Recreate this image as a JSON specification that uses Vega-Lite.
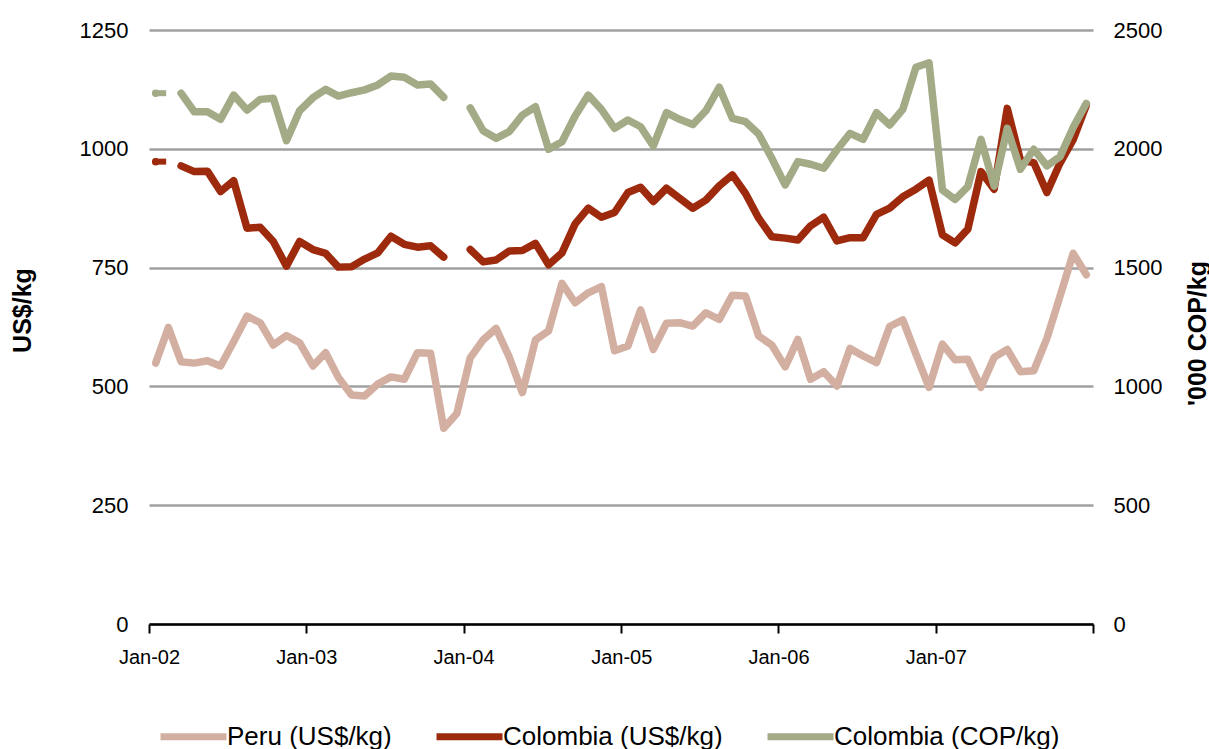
{
  "$schema": "https://vega.github.io/schema/vega-lite/v6.json",
  "width": 944,
  "height": 594,
  "autosize": {"type": "none"},
  "padding": {"left": 149, "top": 30, "right": 116, "bottom": 125},
  "background": "white",
  "config": {
    "view": {"stroke": null},
    "font": "Liberation Sans",
    "axis": {"labelFont": "Liberation Sans", "titleFont": "Liberation Sans", "labelColor": "black", "titleColor": "black"},
    "legend": {"labelFont": "Liberation Sans"}
  },
  "data": {
    "values": [
      {"date": "2002-01-01", "series": "Peru (US$/kg)", "value": 549},
      {"date": "2002-02-01", "series": "Peru (US$/kg)", "value": 624},
      {"date": "2002-03-01", "series": "Peru (US$/kg)", "value": 552},
      {"date": "2002-04-01", "series": "Peru (US$/kg)", "value": 549},
      {"date": "2002-05-01", "series": "Peru (US$/kg)", "value": 554},
      {"date": "2002-06-01", "series": "Peru (US$/kg)", "value": 543},
      {"date": "2002-07-01", "series": "Peru (US$/kg)", "value": 594},
      {"date": "2002-08-01", "series": "Peru (US$/kg)", "value": 648},
      {"date": "2002-09-01", "series": "Peru (US$/kg)", "value": 634},
      {"date": "2002-10-01", "series": "Peru (US$/kg)", "value": 587},
      {"date": "2002-11-01", "series": "Peru (US$/kg)", "value": 607},
      {"date": "2002-12-01", "series": "Peru (US$/kg)", "value": 592},
      {"date": "2003-01-01", "series": "Peru (US$/kg)", "value": 543},
      {"date": "2003-02-01", "series": "Peru (US$/kg)", "value": 571},
      {"date": "2003-03-01", "series": "Peru (US$/kg)", "value": 519},
      {"date": "2003-04-01", "series": "Peru (US$/kg)", "value": 482},
      {"date": "2003-05-01", "series": "Peru (US$/kg)", "value": 480},
      {"date": "2003-06-01", "series": "Peru (US$/kg)", "value": 505},
      {"date": "2003-07-01", "series": "Peru (US$/kg)", "value": 520},
      {"date": "2003-08-01", "series": "Peru (US$/kg)", "value": 515},
      {"date": "2003-09-01", "series": "Peru (US$/kg)", "value": 571},
      {"date": "2003-10-01", "series": "Peru (US$/kg)", "value": 570},
      {"date": "2003-11-01", "series": "Peru (US$/kg)", "value": 412},
      {"date": "2003-12-01", "series": "Peru (US$/kg)", "value": 443},
      {"date": "2004-01-01", "series": "Peru (US$/kg)", "value": 560},
      {"date": "2004-02-01", "series": "Peru (US$/kg)", "value": 598},
      {"date": "2004-03-01", "series": "Peru (US$/kg)", "value": 622},
      {"date": "2004-04-01", "series": "Peru (US$/kg)", "value": 562},
      {"date": "2004-05-01", "series": "Peru (US$/kg)", "value": 487},
      {"date": "2004-06-01", "series": "Peru (US$/kg)", "value": 598},
      {"date": "2004-07-01", "series": "Peru (US$/kg)", "value": 617},
      {"date": "2004-08-01", "series": "Peru (US$/kg)", "value": 717},
      {"date": "2004-09-01", "series": "Peru (US$/kg)", "value": 676},
      {"date": "2004-10-01", "series": "Peru (US$/kg)", "value": 697},
      {"date": "2004-11-01", "series": "Peru (US$/kg)", "value": 710},
      {"date": "2004-12-01", "series": "Peru (US$/kg)", "value": 575},
      {"date": "2005-01-01", "series": "Peru (US$/kg)", "value": 585},
      {"date": "2005-02-01", "series": "Peru (US$/kg)", "value": 661},
      {"date": "2005-03-01", "series": "Peru (US$/kg)", "value": 578},
      {"date": "2005-04-01", "series": "Peru (US$/kg)", "value": 633},
      {"date": "2005-05-01", "series": "Peru (US$/kg)", "value": 634},
      {"date": "2005-06-01", "series": "Peru (US$/kg)", "value": 627},
      {"date": "2005-07-01", "series": "Peru (US$/kg)", "value": 655},
      {"date": "2005-08-01", "series": "Peru (US$/kg)", "value": 641},
      {"date": "2005-09-01", "series": "Peru (US$/kg)", "value": 692},
      {"date": "2005-10-01", "series": "Peru (US$/kg)", "value": 690},
      {"date": "2005-11-01", "series": "Peru (US$/kg)", "value": 606},
      {"date": "2005-12-01", "series": "Peru (US$/kg)", "value": 587},
      {"date": "2006-01-01", "series": "Peru (US$/kg)", "value": 541},
      {"date": "2006-02-01", "series": "Peru (US$/kg)", "value": 599},
      {"date": "2006-03-01", "series": "Peru (US$/kg)", "value": 515},
      {"date": "2006-04-01", "series": "Peru (US$/kg)", "value": 531},
      {"date": "2006-05-01", "series": "Peru (US$/kg)", "value": 501},
      {"date": "2006-06-01", "series": "Peru (US$/kg)", "value": 580},
      {"date": "2006-07-01", "series": "Peru (US$/kg)", "value": 564},
      {"date": "2006-08-01", "series": "Peru (US$/kg)", "value": 550},
      {"date": "2006-09-01", "series": "Peru (US$/kg)", "value": 626},
      {"date": "2006-10-01", "series": "Peru (US$/kg)", "value": 640},
      {"date": "2006-11-01", "series": "Peru (US$/kg)", "value": 568},
      {"date": "2006-12-01", "series": "Peru (US$/kg)", "value": 498},
      {"date": "2007-01-01", "series": "Peru (US$/kg)", "value": 589},
      {"date": "2007-02-01", "series": "Peru (US$/kg)", "value": 556},
      {"date": "2007-03-01", "series": "Peru (US$/kg)", "value": 557},
      {"date": "2007-04-01", "series": "Peru (US$/kg)", "value": 498},
      {"date": "2007-05-01", "series": "Peru (US$/kg)", "value": 561},
      {"date": "2007-06-01", "series": "Peru (US$/kg)", "value": 578},
      {"date": "2007-07-01", "series": "Peru (US$/kg)", "value": 531},
      {"date": "2007-08-01", "series": "Peru (US$/kg)", "value": 533},
      {"date": "2007-09-01", "series": "Peru (US$/kg)", "value": 601},
      {"date": "2007-10-01", "series": "Peru (US$/kg)", "value": 690},
      {"date": "2007-11-01", "series": "Peru (US$/kg)", "value": 780},
      {"date": "2007-12-01", "series": "Peru (US$/kg)", "value": 735},

      {"date": "2002-01-01", "series": "Colombia (US$/kg)", "value": 973},
      {"date": "2002-02-01", "series": "Colombia (US$/kg)", "value": null},
      {"date": "2002-03-01", "series": "Colombia (US$/kg)", "value": 964},
      {"date": "2002-04-01", "series": "Colombia (US$/kg)", "value": 952},
      {"date": "2002-05-01", "series": "Colombia (US$/kg)", "value": 953},
      {"date": "2002-06-01", "series": "Colombia (US$/kg)", "value": 910},
      {"date": "2002-07-01", "series": "Colombia (US$/kg)", "value": 933},
      {"date": "2002-08-01", "series": "Colombia (US$/kg)", "value": 833},
      {"date": "2002-09-01", "series": "Colombia (US$/kg)", "value": 835},
      {"date": "2002-10-01", "series": "Colombia (US$/kg)", "value": 805},
      {"date": "2002-11-01", "series": "Colombia (US$/kg)", "value": 753},
      {"date": "2002-12-01", "series": "Colombia (US$/kg)", "value": 805},
      {"date": "2003-01-01", "series": "Colombia (US$/kg)", "value": 788},
      {"date": "2003-02-01", "series": "Colombia (US$/kg)", "value": 780},
      {"date": "2003-03-01", "series": "Colombia (US$/kg)", "value": 751},
      {"date": "2003-04-01", "series": "Colombia (US$/kg)", "value": 752},
      {"date": "2003-05-01", "series": "Colombia (US$/kg)", "value": 768},
      {"date": "2003-06-01", "series": "Colombia (US$/kg)", "value": 781},
      {"date": "2003-07-01", "series": "Colombia (US$/kg)", "value": 816},
      {"date": "2003-08-01", "series": "Colombia (US$/kg)", "value": 799},
      {"date": "2003-09-01", "series": "Colombia (US$/kg)", "value": 793},
      {"date": "2003-10-01", "series": "Colombia (US$/kg)", "value": 796},
      {"date": "2003-11-01", "series": "Colombia (US$/kg)", "value": 772},
      {"date": "2003-12-01", "series": "Colombia (US$/kg)", "value": null},
      {"date": "2004-01-01", "series": "Colombia (US$/kg)", "value": 788},
      {"date": "2004-02-01", "series": "Colombia (US$/kg)", "value": 762},
      {"date": "2004-03-01", "series": "Colombia (US$/kg)", "value": 766},
      {"date": "2004-04-01", "series": "Colombia (US$/kg)", "value": 785},
      {"date": "2004-05-01", "series": "Colombia (US$/kg)", "value": 786},
      {"date": "2004-06-01", "series": "Colombia (US$/kg)", "value": 801},
      {"date": "2004-07-01", "series": "Colombia (US$/kg)", "value": 756},
      {"date": "2004-08-01", "series": "Colombia (US$/kg)", "value": 781},
      {"date": "2004-09-01", "series": "Colombia (US$/kg)", "value": 842},
      {"date": "2004-10-01", "series": "Colombia (US$/kg)", "value": 875},
      {"date": "2004-11-01", "series": "Colombia (US$/kg)", "value": 856},
      {"date": "2004-12-01", "series": "Colombia (US$/kg)", "value": 866},
      {"date": "2005-01-01", "series": "Colombia (US$/kg)", "value": 908},
      {"date": "2005-02-01", "series": "Colombia (US$/kg)", "value": 919},
      {"date": "2005-03-01", "series": "Colombia (US$/kg)", "value": 889},
      {"date": "2005-04-01", "series": "Colombia (US$/kg)", "value": 917},
      {"date": "2005-05-01", "series": "Colombia (US$/kg)", "value": 896},
      {"date": "2005-06-01", "series": "Colombia (US$/kg)", "value": 875},
      {"date": "2005-07-01", "series": "Colombia (US$/kg)", "value": 892},
      {"date": "2005-08-01", "series": "Colombia (US$/kg)", "value": 922},
      {"date": "2005-09-01", "series": "Colombia (US$/kg)", "value": 945},
      {"date": "2005-10-01", "series": "Colombia (US$/kg)", "value": 906},
      {"date": "2005-11-01", "series": "Colombia (US$/kg)", "value": 854},
      {"date": "2005-12-01", "series": "Colombia (US$/kg)", "value": 815},
      {"date": "2006-01-01", "series": "Colombia (US$/kg)", "value": 812},
      {"date": "2006-02-01", "series": "Colombia (US$/kg)", "value": 808},
      {"date": "2006-03-01", "series": "Colombia (US$/kg)", "value": 838},
      {"date": "2006-04-01", "series": "Colombia (US$/kg)", "value": 856},
      {"date": "2006-05-01", "series": "Colombia (US$/kg)", "value": 806},
      {"date": "2006-06-01", "series": "Colombia (US$/kg)", "value": 813},
      {"date": "2006-07-01", "series": "Colombia (US$/kg)", "value": 813},
      {"date": "2006-08-01", "series": "Colombia (US$/kg)", "value": 862},
      {"date": "2006-09-01", "series": "Colombia (US$/kg)", "value": 875},
      {"date": "2006-10-01", "series": "Colombia (US$/kg)", "value": 899},
      {"date": "2006-11-01", "series": "Colombia (US$/kg)", "value": 915},
      {"date": "2006-12-01", "series": "Colombia (US$/kg)", "value": 934},
      {"date": "2007-01-01", "series": "Colombia (US$/kg)", "value": 819},
      {"date": "2007-02-01", "series": "Colombia (US$/kg)", "value": 802},
      {"date": "2007-03-01", "series": "Colombia (US$/kg)", "value": 831},
      {"date": "2007-04-01", "series": "Colombia (US$/kg)", "value": 952},
      {"date": "2007-05-01", "series": "Colombia (US$/kg)", "value": 915},
      {"date": "2007-06-01", "series": "Colombia (US$/kg)", "value": 1085},
      {"date": "2007-07-01", "series": "Colombia (US$/kg)", "value": 976},
      {"date": "2007-08-01", "series": "Colombia (US$/kg)", "value": 971},
      {"date": "2007-09-01", "series": "Colombia (US$/kg)", "value": 908},
      {"date": "2007-10-01", "series": "Colombia (US$/kg)", "value": 970},
      {"date": "2007-11-01", "series": "Colombia (US$/kg)", "value": 1019},
      {"date": "2007-12-01", "series": "Colombia (US$/kg)", "value": 1092},

      {"date": "2002-01-01", "series": "Colombia (COP/kg)", "value": 2234},
      {"date": "2002-02-01", "series": "Colombia (COP/kg)", "value": null},
      {"date": "2002-03-01", "series": "Colombia (COP/kg)", "value": 2234},
      {"date": "2002-04-01", "series": "Colombia (COP/kg)", "value": 2156},
      {"date": "2002-05-01", "series": "Colombia (COP/kg)", "value": 2156},
      {"date": "2002-06-01", "series": "Colombia (COP/kg)", "value": 2124},
      {"date": "2002-07-01", "series": "Colombia (COP/kg)", "value": 2226},
      {"date": "2002-08-01", "series": "Colombia (COP/kg)", "value": 2163},
      {"date": "2002-09-01", "series": "Colombia (COP/kg)", "value": 2208},
      {"date": "2002-10-01", "series": "Colombia (COP/kg)", "value": 2213},
      {"date": "2002-11-01", "series": "Colombia (COP/kg)", "value": 2034},
      {"date": "2002-12-01", "series": "Colombia (COP/kg)", "value": 2160},
      {"date": "2003-01-01", "series": "Colombia (COP/kg)", "value": 2215},
      {"date": "2003-02-01", "series": "Colombia (COP/kg)", "value": 2250},
      {"date": "2003-03-01", "series": "Colombia (COP/kg)", "value": 2222},
      {"date": "2003-04-01", "series": "Colombia (COP/kg)", "value": 2236},
      {"date": "2003-05-01", "series": "Colombia (COP/kg)", "value": 2248},
      {"date": "2003-06-01", "series": "Colombia (COP/kg)", "value": 2269},
      {"date": "2003-07-01", "series": "Colombia (COP/kg)", "value": 2306},
      {"date": "2003-08-01", "series": "Colombia (COP/kg)", "value": 2301},
      {"date": "2003-09-01", "series": "Colombia (COP/kg)", "value": 2269},
      {"date": "2003-10-01", "series": "Colombia (COP/kg)", "value": 2273},
      {"date": "2003-11-01", "series": "Colombia (COP/kg)", "value": 2217},
      {"date": "2003-12-01", "series": "Colombia (COP/kg)", "value": null},
      {"date": "2004-01-01", "series": "Colombia (COP/kg)", "value": 2172},
      {"date": "2004-02-01", "series": "Colombia (COP/kg)", "value": 2076},
      {"date": "2004-03-01", "series": "Colombia (COP/kg)", "value": 2044},
      {"date": "2004-04-01", "series": "Colombia (COP/kg)", "value": 2072},
      {"date": "2004-05-01", "series": "Colombia (COP/kg)", "value": 2142},
      {"date": "2004-06-01", "series": "Colombia (COP/kg)", "value": 2177},
      {"date": "2004-07-01", "series": "Colombia (COP/kg)", "value": 1998},
      {"date": "2004-08-01", "series": "Colombia (COP/kg)", "value": 2030},
      {"date": "2004-09-01", "series": "Colombia (COP/kg)", "value": 2138},
      {"date": "2004-10-01", "series": "Colombia (COP/kg)", "value": 2226},
      {"date": "2004-11-01", "series": "Colombia (COP/kg)", "value": 2166},
      {"date": "2004-12-01", "series": "Colombia (COP/kg)", "value": 2086},
      {"date": "2005-01-01", "series": "Colombia (COP/kg)", "value": 2121},
      {"date": "2005-02-01", "series": "Colombia (COP/kg)", "value": 2093},
      {"date": "2005-03-01", "series": "Colombia (COP/kg)", "value": 2012},
      {"date": "2005-04-01", "series": "Colombia (COP/kg)", "value": 2152},
      {"date": "2005-05-01", "series": "Colombia (COP/kg)", "value": 2124},
      {"date": "2005-06-01", "series": "Colombia (COP/kg)", "value": 2102},
      {"date": "2005-07-01", "series": "Colombia (COP/kg)", "value": 2160},
      {"date": "2005-08-01", "series": "Colombia (COP/kg)", "value": 2259},
      {"date": "2005-09-01", "series": "Colombia (COP/kg)", "value": 2128},
      {"date": "2005-10-01", "series": "Colombia (COP/kg)", "value": 2114},
      {"date": "2005-11-01", "series": "Colombia (COP/kg)", "value": 2062},
      {"date": "2005-12-01", "series": "Colombia (COP/kg)", "value": 1960},
      {"date": "2006-01-01", "series": "Colombia (COP/kg)", "value": 1848},
      {"date": "2006-02-01", "series": "Colombia (COP/kg)", "value": 1946},
      {"date": "2006-03-01", "series": "Colombia (COP/kg)", "value": 1935},
      {"date": "2006-04-01", "series": "Colombia (COP/kg)", "value": 1918},
      {"date": "2006-05-01", "series": "Colombia (COP/kg)", "value": 1995},
      {"date": "2006-06-01", "series": "Colombia (COP/kg)", "value": 2065},
      {"date": "2006-07-01", "series": "Colombia (COP/kg)", "value": 2040},
      {"date": "2006-08-01", "series": "Colombia (COP/kg)", "value": 2152},
      {"date": "2006-09-01", "series": "Colombia (COP/kg)", "value": 2100},
      {"date": "2006-10-01", "series": "Colombia (COP/kg)", "value": 2166},
      {"date": "2006-11-01", "series": "Colombia (COP/kg)", "value": 2343},
      {"date": "2006-12-01", "series": "Colombia (COP/kg)", "value": 2362},
      {"date": "2007-01-01", "series": "Colombia (COP/kg)", "value": 1827},
      {"date": "2007-02-01", "series": "Colombia (COP/kg)", "value": 1787},
      {"date": "2007-03-01", "series": "Colombia (COP/kg)", "value": 1841},
      {"date": "2007-04-01", "series": "Colombia (COP/kg)", "value": 2040},
      {"date": "2007-05-01", "series": "Colombia (COP/kg)", "value": 1843},
      {"date": "2007-06-01", "series": "Colombia (COP/kg)", "value": 2086},
      {"date": "2007-07-01", "series": "Colombia (COP/kg)", "value": 1914},
      {"date": "2007-08-01", "series": "Colombia (COP/kg)", "value": 1998},
      {"date": "2007-09-01", "series": "Colombia (COP/kg)", "value": 1928},
      {"date": "2007-10-01", "series": "Colombia (COP/kg)", "value": 1967},
      {"date": "2007-11-01", "series": "Colombia (COP/kg)", "value": 2090},
      {"date": "2007-12-01", "series": "Colombia (COP/kg)", "value": 2191}
    ]
  },
  "encoding": {
    "x": {
      "field": "date",
      "type": "temporal",
      "timeUnit": "utcyearmonth",
      "bandPosition": 0.5,
      "scale": {
        "type": "utc",
        "domain": [
          {"year": 2002, "month": 1, "date": 1, "utc": true},
          {"year": 2008, "month": 1, "date": 1, "utc": true}
        ]
      },
      "axis": {
        "title": null,
        "values": [
          {"year": 2002, "month": 1, "date": 1, "utc": true},
          {"year": 2003, "month": 1, "date": 1, "utc": true},
          {"year": 2004, "month": 1, "date": 1, "utc": true},
          {"year": 2005, "month": 1, "date": 1, "utc": true},
          {"year": 2006, "month": 1, "date": 1, "utc": true},
          {"year": 2007, "month": 1, "date": 1, "utc": true},
          {"year": 2008, "month": 1, "date": 1, "utc": true}
        ],
        "labelExpr": "utcyear(datum.value) >= 2008 ? '' : utcFormat(datum.value, '%b-%y')",
        "grid": false,
        "domain": true,
        "domainColor": "black",
        "domainWidth": 2.5,
        "ticks": true,
        "tickColor": "black",
        "tickWidth": 2,
        "tickSize": 9,
        "labelFontSize": 20,
        "labelPadding": 14,
        "labelAngle": 0,
        "labelFlush": false,
        "labelOverlap": false,
        "zindex": 1
      }
    },
    "color": {
      "field": "series",
      "type": "nominal",
      "scale": {
        "domain": ["Peru (US$/kg)", "Colombia (US$/kg)", "Colombia (COP/kg)"],
        "range": ["#D3AFA2", "#9E2A0E", "#A2AA86"]
      },
      "legend": {
        "title": null,
        "orient": "none",
        "direction": "horizontal",
        "legendX": 8,
        "legendY": 670,
        "padding": 0,
        "symbolType": "stroke",
        "symbolStrokeWidth": 7,
        "symbolSize": 4356,
        "labelFontSize": 26,
        "labelOffset": -3,
        "columnPadding": 30,
        "labelLimit": 400
      }
    }
  },
  "layer": [
    {
      "transform": [{"filter": "datum.series != 'Colombia (COP/kg)'"}],
      "encoding": {
        "y": {
          "field": "value",
          "type": "quantitative",
          "scale": {"domain": [0, 1250], "nice": false},
          "axis": {
            "title": "US$/kg",
            "orient": "left",
            "values": [0, 250, 500, 750, 1000, 1250],
            "format": "d",
            "grid": true,
            "gridColor": "#A0A0A0",
            "gridWidth": 2.5,
            "domain": false,
            "ticks": false,
            "tickSize": 0,
            "labelPadding": 21,
            "labelFontSize": 22,
            "titleFontSize": 25,
            "titleFontWeight": "bold",
            "titleAngle": 270,
            "titleX": -127,
            "titleY": 280,
            "titleAlign": "center",
            "titleBaseline": "middle"
          }
        }
      },
      "layer": [
        {
          "mark": {"type": "line", "strokeWidth": 7.5, "strokeCap": "round", "strokeJoin": "round", "invalid": "break-paths-show-domains"}
        },
        {
          "transform": [
            {"filter": {"field": "date", "timeUnit": "utcyearmonth", "equal": {"year": 2002, "month": 1, "utc": true}}},
            {"filter": "datum.series == 'Colombia (US$/kg)'"}
          ],
          "mark": {"type": "tick", "orient": "horizontal", "size": 13, "thickness": 6, "xOffset": 4, "opacity": 1}
        }
      ]
    },
    {
      "transform": [{"filter": "datum.series == 'Colombia (COP/kg)'"}],
      "encoding": {
        "y": {
          "field": "value",
          "type": "quantitative",
          "scale": {"domain": [0, 2500], "nice": false},
          "axis": {
            "title": "'000 COP/kg",
            "orient": "right",
            "values": [0, 500, 1000, 1500, 2000, 2500],
            "format": "d",
            "grid": false,
            "domain": false,
            "ticks": false,
            "tickSize": 0,
            "labelPadding": 20,
            "labelFontSize": 22,
            "titleFontSize": 25,
            "titleFontWeight": "bold",
            "titleAngle": 270,
            "titleX": 104,
            "titleY": 303,
            "titleAlign": "center",
            "titleBaseline": "middle"
          }
        }
      },
      "layer": [
        {
          "mark": {"type": "line", "strokeWidth": 7.5, "strokeCap": "round", "strokeJoin": "round", "invalid": "break-paths-show-domains"}
        },
        {
          "transform": [
            {"filter": {"field": "date", "timeUnit": "utcyearmonth", "equal": {"year": 2002, "month": 1, "utc": true}}}
          ],
          "mark": {"type": "tick", "orient": "horizontal", "size": 13, "thickness": 6, "xOffset": 4, "opacity": 1}
        }
      ]
    }
  ],
  "resolve": {"scale": {"y": "independent"}}
}
